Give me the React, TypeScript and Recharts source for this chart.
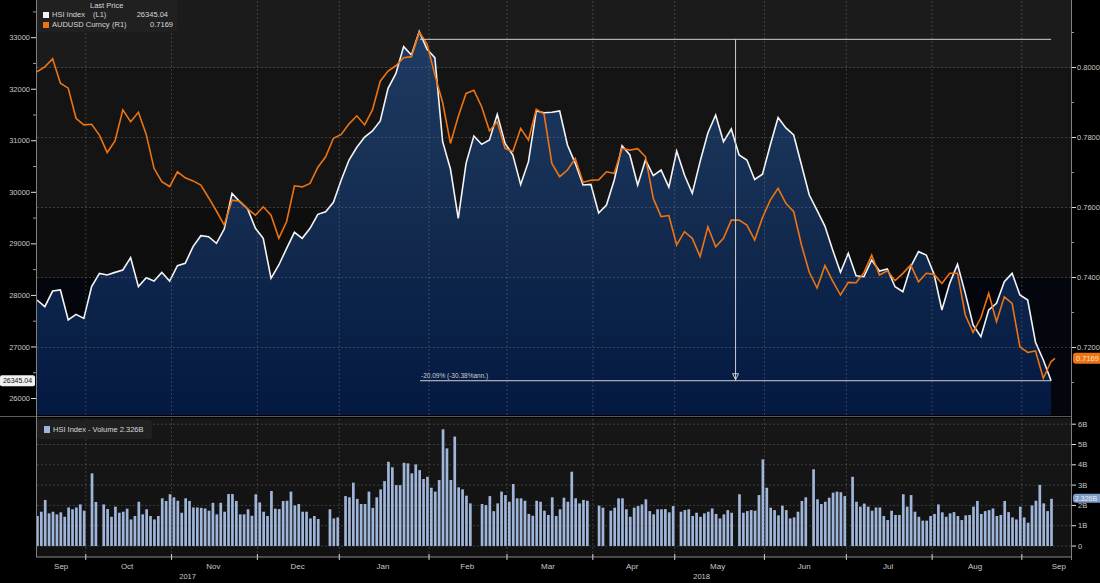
import React from 'react';
import {
  ComposedChart,
  Area,
  Line,
  Bar,
  XAxis,
  YAxis,
  ReferenceLine,
  ReferenceDot,
} from 'recharts';

// HSI close, every 2nd trading day from 13 Sep 2017 (day 0) to 12 Sep 2018 (day 260)
const hsi = [
  27911, 27781, 28085, 28105, 27523, 27633, 27555, 28170, 28428, 28396,
  28447, 28493, 28732, 28170, 28344, 28279, 28447, 28279, 28577, 28622,
  28946, 29159, 29140, 29010, 29288, 29980, 29818, 29676, 29301, 29107,
  28331, 28590, 28913, 29224, 29107, 29301, 29573, 29624, 29806, 30239,
  30627, 30873, 31073, 31190, 31384, 32017, 32302, 32826, 32664, 33120,
  32774, 32612, 30982, 30452, 29495, 30562, 31092, 30931, 31015, 31513,
  30950, 30724, 30150, 30595, 31578, 31545, 31552, 31578, 30918, 30562,
  30142, 30155, 29600, 29754, 30239, 30905, 30724, 30142, 30627, 30323,
  30433, 30100, 30801, 30336, 29980, 30595, 31150, 31500, 30982, 31228,
  30724, 30627, 30250, 30350, 30918, 31450, 31250, 31112, 30530, 29948,
  29650, 29346, 28881, 28450, 28816, 28383, 28363, 28687, 28473, 28512,
  28169, 28072, 28557, 28849, 28784, 28409, 27717, 28234, 28603, 28040,
  27426, 27199, 27717, 27846, 28266, 28428, 28008, 27911, 27089, 26747,
  26345.04,
];

// AUDUSD on the same days, plus one more print (day 261)
const aud = [
  0.7988, 0.8002, 0.8025, 0.7955, 0.7941, 0.7855, 0.7836, 0.7838, 0.7807, 0.7757,
  0.779, 0.7879, 0.7845, 0.7872, 0.7809, 0.7712, 0.7674, 0.766, 0.7702, 0.7685,
  0.7676, 0.7664, 0.7628, 0.759, 0.755, 0.7621, 0.7618, 0.7596, 0.7578, 0.7602,
  0.7578, 0.7512, 0.756, 0.7662, 0.7659, 0.7669, 0.7715, 0.7745, 0.7798, 0.7809,
  0.7839, 0.7862, 0.7836, 0.7879, 0.7961, 0.799, 0.8005, 0.8028, 0.8031, 0.8101,
  0.8067, 0.7979, 0.79, 0.7783, 0.786, 0.7926, 0.7935, 0.7888, 0.7819, 0.7845,
  0.7769, 0.776, 0.7826, 0.7793, 0.7881, 0.7867, 0.7726, 0.7688, 0.7707, 0.774,
  0.7672, 0.7678, 0.7679, 0.7702, 0.7698, 0.7769, 0.7764, 0.7768, 0.7745, 0.7626,
  0.7574, 0.7577, 0.7493, 0.7531, 0.7512, 0.746, 0.7545, 0.7488, 0.7512, 0.7564,
  0.7564, 0.755, 0.7507, 0.7571, 0.7621, 0.7655, 0.7612, 0.7588, 0.7493, 0.7415,
  0.737, 0.7434, 0.739, 0.735, 0.7386, 0.7385, 0.7414, 0.7464, 0.7407, 0.7419,
  0.7391, 0.7412, 0.7436, 0.7388, 0.7412, 0.7409, 0.7383, 0.7412, 0.7412, 0.7293,
  0.7243, 0.7285, 0.7355, 0.7274, 0.7345, 0.7326, 0.7202, 0.7186, 0.719, 0.7112,
  0.716, 0.7169,
];
const audExtraDay = 261;

// HSI daily volume in billions, one per weekday (null = HK holiday)
const volume = [
  1.48, 1.69, 2.27, 1.61, 1.69, 1.56, 1.66, 1.44, 1.9, 1.81,
  1.9, 2.05, 1.74, null, 3.58, 2.17, null, 2.05, 1.82, 1.44,
  1.94, 1.64, 1.69, 1.84, 1.31, 1.48, 2.18, 1.56, 1.81, 1.48,
  1.31, 1.48, 2.35, 2.22, 2.55, 2.4, 2.23, 1.64, 2.35, 2.22,
  1.9, 1.9, 1.88, 1.85, 1.74, 2.13, 1.56, 2.13, 1.69, 2.56,
  2.56, 2.22, 1.56, 1.56, 1.81, 1.49, 2.55, 2.15, 1.69, 1.48,
  2.71, 1.84, 1.82, 2.22, 2.23, 2.68, 2.0, 2.07, 1.69, 1.69,
  1.36, 1.48, 1.33, null, null, 1.81, 1.36, 1.41, null, 2.46,
  2.4, 3.12, 2.32, 2.07, 2.07, 2.68, 1.88, 2.4, 2.79, 3.2,
  4.15, 3.88, 3.0, 3.0, 4.1, 4.07, 3.58, 4.02, 3.74, 3.3,
  3.41, 2.87, 2.68, 3.25, 5.75, 4.81, 3.25, 5.39, 2.89, 2.79,
  2.48, 2.1, null, null, 2.07, 2.02, 2.46, 1.72, 2.1, 2.68,
  2.51, 2.18, 3.05, 2.35, 2.35, 2.23, 1.58, 1.49, 2.23, 2.18,
  1.74, 1.53, 2.4, 1.48, 1.81, 2.38, 2.18, 3.66, 2.35, 2.1,
  2.27, 2.23, null, null, 1.99, 1.89, null, 1.74, 1.89, 2.35,
  2.35, 1.81, 1.44, 1.89, 1.97, 2.05, 2.3, 1.72, 1.56, 1.81,
  1.81, 1.82, 1.66, 1.97, null, 1.69, 1.77, 1.81, 1.48, 1.64,
  1.44, 1.61, 1.69, 1.85, 1.58, 1.36, 1.56, 1.77, 1.64, null,
  2.55, 1.64, 1.72, 1.77, 1.74, 2.51, 4.27, 2.87, 1.89, 1.77,
  1.51, 1.99, 1.77, 1.36, 1.41, 1.69, 2.22, 2.4, null, 3.78,
  2.3, 2.07, 2.18, 2.38, 2.63, 2.68, 2.65, 2.46, null, 3.41,
  2.18, 1.94, 2.09, 1.94, 1.74, 1.9, 1.9, 1.48, 1.28, 1.74,
  1.53, 1.53, 2.55, 1.94, 2.51, 1.69, 1.44, 1.25, 1.25, 1.48,
  1.58, 2.05, 1.66, 1.44, 1.61, 1.67, 1.48, 1.28, 1.51, 1.53,
  1.94, 2.22, 1.58, 1.72, 1.77, 1.85, 1.48, 1.53, 2.22, 1.67,
  1.41, 1.31, 1.94, 1.41, 1.15, 2.0, 2.23, 3.01, 2.1, 1.72,
  2.326,
];

const monthNames = ['Sep', 'Oct', 'Nov', 'Dec', 'Jan', 'Feb', 'Mar', 'Apr', 'May', 'Jun', 'Jul', 'Aug', 'Sep'];
const monthLabelDays = [6.2, 23.1, 45.2, 66.8, 88.7, 110.3, 131, 152.6, 174.5, 196.7, 218.2, 240.5, 262];
const monthStartDays = [13, 35, 57, 78, 101, 121, 143, 164, 187, 208, 230, 253];
const yearNames = ['2017', '2018'];
const yearLabelDays = [38.6, 170.4];

const hsiTicks = [26000, 26500, 27000, 27500, 28000, 28500, 29000, 29500, 30000, 30500, 31000, 31500, 32000, 32500, 33000, 33500];
const audTicks = [0.71, 0.72, 0.73, 0.74, 0.75, 0.76, 0.77, 0.78, 0.79, 0.8, 0.81, 0.82];
const audGrid = [0.72, 0.74, 0.76, 0.78, 0.8];
const volTicks = [0, 1, 2, 3, 4, 5, 6];
const volTickLabels = ['0', '1B', '2B', '3B', '4B', '5B', '6B'];

const hsiLast = 26345.04;
const audLast = 0.7169;
const volLast = 2.326;
const hsiPeakRef = 32968;
const moveText = '-20.09% (-30.38%ann.)';
const moveStartDay = 98.2;
const moveEndDay = 260;
const arrowDay = 179.1;

const DAY_DOMAIN: [number, number] = [-0.26, 265.1];
const HSI_DOMAIN: [number, number] = [25680, 33731];
const AUD_DOMAIN: [number, number] = [0.70072, 0.81929];
const VOL_DOMAIN: [number, number] = [-0.54, 6.305];

const TOP_H = 415;
const PLOT_L = 36;
const PLOT_R = 1071;
const FONT = '"Liberation Sans", Arial, sans-serif';
const GRID = 'rgba(150,150,150,0.32)';
const ORANGE = '#ec7412';

const lineRows = aud.map((a, k) => ({
  day: k < hsi.length ? k * 2 : audExtraDay,
  hsi: k < hsi.length ? hsi[k] : null,
  aud: a,
}));
const volRows = volume.map((v, i) => ({ day: i, vol: v }));
const boundaries = monthStartDays.map((d) => d - 0.5);

// y pixel of an AUD value, used only for the background bands
const audY = (v: number) => ((AUD_DOMAIN[1] - v) / (AUD_DOMAIN[1] - AUD_DOMAIN[0])) * TOP_H;

const LeftTick = (props: any) => {
  const { x, y, payload } = props;
  const major = payload.value % 1000 === 0;
  return (
    <g>
      <line x1={x - (major ? 5 : 3)} x2={x} y1={y} y2={y} stroke={major ? '#e0e0e0' : '#9a9a9a'} />
      {major && (
        <text x={x - 6} y={y} dy={2.6} textAnchor="end" fill="#c9c9c9" fontSize={7.5} fontFamily={FONT}>
          {payload.value}
        </text>
      )}
    </g>
  );
};

const RightTick = (props: any) => {
  const { x, y, payload } = props;
  const major = Math.round(payload.value * 100) % 2 === 0;
  return (
    <g>
      <line x1={x} x2={x + (major ? 5 : 3)} y1={y} y2={y} stroke={major ? '#e0e0e0' : '#9a9a9a'} />
      {major && (
        <text x={x + 6} y={y} dy={2.6} fill="#c9c9c9" fontSize={7.5} fontFamily={FONT}>
          {payload.value.toFixed(4)}
        </text>
      )}
    </g>
  );
};

const VolTick = (props: any) => {
  const { x, y, index } = props;
  return (
    <g>
      <line x1={x} x2={x + 5} y1={y} y2={y} stroke="#e0e0e0" />
      <text x={x + 7} y={y} dy={2.6} fill="#c9c9c9" fontSize={7.5} fontFamily={FONT}>
        {volTickLabels[index]}
      </text>
    </g>
  );
};

const BoundaryTick = (props: any) => {
  const { x, y } = props;
  return <line x1={x} x2={x} y1={y - 3} y2={y + 3} stroke="#cfcfcf" />;
};

const MonthTick = (props: any) => {
  const { x, y, index } = props;
  return (
    <text x={x} y={y} dy={9} textAnchor="middle" fill="#c9c9c9" fontSize={8} fontFamily={FONT}>
      {monthNames[index]}
    </text>
  );
};

const YearTick = (props: any) => {
  const { x, y, index } = props;
  return (
    <text x={x} y={y} dy={8} textAnchor="middle" fill="#c9c9c9" fontSize={7.5} fontFamily={FONT}>
      {yearNames[index]}
    </text>
  );
};

const LeftTag = (props: any) => {
  const { cx, cy } = props;
  return (
    <g>
      <rect x={cx - 36} y={cy - 5.5} width={35} height={11} rx={2} fill="#f0f0f0" />
      <text x={cx - 18.5} y={cy} dy={2.6} textAnchor="middle" fill="#111" fontSize={7} fontFamily={FONT}>
        {hsiLast.toFixed(2)}
      </text>
    </g>
  );
};

const RightTag = (props: any) => {
  const { cx, cy } = props;
  return (
    <g>
      <rect x={cx + 2} y={cy - 5.5} width={30} height={11} rx={3} fill={ORANGE} />
      <text x={cx + 5} y={cy} dy={2.6} fill="#ffe2c4" fontSize={7.5} fontFamily={FONT}>
        {audLast.toFixed(4)}
      </text>
    </g>
  );
};

const VolTag = (props: any) => {
  const { cx, cy } = props;
  return (
    <g>
      <rect x={cx + 2} y={cy - 5} width={30} height={9} rx={3} fill="#7f9cc6" />
      <text x={cx + 4} y={cy - 0.5} dy={2.4} fill="#e6edf8" fontSize={7} fontFamily={FONT}>
        {volLast.toFixed(3)}B
      </text>
    </g>
  );
};

const ArrowHead = (props: any) => {
  const { cx, cy } = props;
  return <path d={`M${cx - 3},${cy - 7} L${cx + 3},${cy - 7} L${cx},${cy - 1} Z`} fill="none" stroke="#d0d0d0" />;
};

const MoveLabel = (props: any) => {
  const { cx, cy } = props;
  return (
    <text x={cx + 1} y={cy - 2.5} fill="#cfcfcf" fontSize={6.5} fontFamily={FONT}>
      {moveText}
    </text>
  );
};

const textStyle: React.CSSProperties = {
  position: 'absolute',
  fontSize: 7.5,
  color: '#d8d8d8',
  whiteSpace: 'nowrap',
  lineHeight: '9px',
};

export default function App() {
  const b1 = audY(0.8);
  const b2 = audY(0.76);
  const b3 = audY(0.74);
  const topBands = `linear-gradient(to bottom, #1b1b1b 0px, #1b1b1b ${b1}px, #141414 ${b1}px, #141414 ${b2}px, #0e0e0e ${b2}px, #0e0e0e ${b3}px, #04060d ${b3}px, #04060d ${TOP_H}px)`;

  return (
    <div
      style={{
        position: 'absolute',
        left: 0,
        top: 0,
        width: 1100,
        height: 583,
        background: '#000',
        overflow: 'hidden',
        fontFamily: FONT,
      }}
    >
      {/* panel backgrounds */}
      <div style={{ position: 'absolute', left: PLOT_L, top: 0, width: PLOT_R - PLOT_L, height: TOP_H, background: topBands }} />
      <div
        style={{
          position: 'absolute',
          left: PLOT_L,
          top: 418,
          width: PLOT_R - PLOT_L,
          height: 139,
          background: 'linear-gradient(to bottom, #171717, #111111)',
        }}
      />

      {/* price panel */}
      <div style={{ position: 'absolute', left: 0, top: 0 }}>
        <ComposedChart width={1100} height={TOP_H} data={lineRows} margin={{ top: 0, right: 0, bottom: 0, left: 0 }}>
          <defs>
            <linearGradient id="hsiFill" x1="0" y1="0" x2="0" y2="1">
              <stop offset="0%" stopColor="#1f4170" />
              <stop offset="55%" stopColor="#132e58" />
              <stop offset="100%" stopColor="#031c4a" />
            </linearGradient>
          </defs>
          <XAxis type="number" dataKey="day" domain={DAY_DOMAIN} allowDataOverflow hide />
          <YAxis
            yAxisId="left"
            orientation="left"
            width={PLOT_L}
            domain={HSI_DOMAIN}
            allowDataOverflow
            ticks={hsiTicks}
            interval={0}
            tick={LeftTick}
            tickSize={0}
            tickMargin={0}
            tickLine={false}
            axisLine={false}
          />
          <YAxis
            yAxisId="right"
            orientation="right"
            width={1100 - PLOT_R}
            domain={AUD_DOMAIN}
            allowDataOverflow
            ticks={audTicks}
            interval={0}
            tick={RightTick}
            tickSize={0}
            tickMargin={0}
            tickLine={false}
            axisLine={false}
          />
          {audGrid.map((v) => (
            <ReferenceLine key={`ag${v}`} yAxisId="right" y={v} stroke={GRID} strokeDasharray="2 2" />
          ))}
          {boundaries.map((d) => (
            <ReferenceLine key={`mb${d}`} yAxisId="left" x={d} stroke={GRID} strokeDasharray="2 2" />
          ))}
          <Area
            yAxisId="left"
            type="linear"
            dataKey="hsi"
            stroke="#f4f4f4"
            strokeWidth={1.6}
            fill="url(#hsiFill)"
            fillOpacity={0.86}
            dot={false}
            activeDot={false}
            isAnimationActive={false}
          />
          <Line
            yAxisId="right"
            type="linear"
            dataKey="aud"
            stroke={ORANGE}
            strokeWidth={1.6}
            dot={false}
            activeDot={false}
            isAnimationActive={false}
          />
          <ReferenceLine
            yAxisId="left"
            segment={[
              { x: moveStartDay, y: hsiPeakRef },
              { x: moveEndDay, y: hsiPeakRef },
            ]}
            stroke="#cfcfcf"
          />
          <ReferenceLine
            yAxisId="left"
            segment={[
              { x: moveStartDay, y: hsiLast },
              { x: moveEndDay, y: hsiLast },
            ]}
            stroke="#cfcfcf"
          />
          <ReferenceLine
            yAxisId="left"
            segment={[
              { x: arrowDay, y: hsiPeakRef },
              { x: arrowDay, y: hsiLast },
            ]}
            stroke="#cfcfcf"
          />
          <ReferenceDot yAxisId="left" x={arrowDay} y={hsiLast} ifOverflow="visible" shape={ArrowHead} />
          <ReferenceDot yAxisId="left" x={moveStartDay} y={hsiLast} ifOverflow="visible" shape={MoveLabel} />
          <ReferenceDot yAxisId="left" x={DAY_DOMAIN[0]} y={hsiLast} ifOverflow="visible" shape={LeftTag} />
          <ReferenceDot yAxisId="right" x={DAY_DOMAIN[1]} y={audLast} ifOverflow="visible" shape={RightTag} />
        </ComposedChart>
      </div>

      {/* volume panel */}
      <div style={{ position: 'absolute', left: 0, top: 418 }}>
        <ComposedChart width={1100} height={164} data={volRows} margin={{ top: 0, right: 0, bottom: 0, left: PLOT_L }}>
          <XAxis
            xAxisId="b"
            type="number"
            dataKey="day"
            domain={DAY_DOMAIN}
            allowDataOverflow
            ticks={boundaries}
            interval={0}
            tick={BoundaryTick}
            tickSize={0}
            tickMargin={0}
            tickLine={false}
            axisLine={{ stroke: '#8a8a8a' }}
            height={3}
          />
          <XAxis
            xAxisId="m"
            type="number"
            dataKey="day"
            domain={DAY_DOMAIN}
            allowDataOverflow
            ticks={monthLabelDays}
            interval={0}
            tick={MonthTick}
            tickSize={0}
            tickMargin={0}
            tickLine={false}
            axisLine={false}
            height={11}
          />
          <XAxis
            xAxisId="yr"
            type="number"
            dataKey="day"
            domain={DAY_DOMAIN}
            allowDataOverflow
            ticks={yearLabelDays}
            interval={0}
            tick={YearTick}
            tickSize={0}
            tickMargin={0}
            tickLine={false}
            axisLine={false}
            height={11}
          />
          <YAxis
            yAxisId="v"
            orientation="right"
            width={1100 - PLOT_R}
            domain={VOL_DOMAIN}
            allowDataOverflow
            ticks={volTicks}
            interval={0}
            tick={VolTick}
            tickSize={0}
            tickMargin={0}
            tickLine={false}
            axisLine={false}
          />
          {volTicks.map((v) => (
            <ReferenceLine key={`vg${v}`} xAxisId="b" yAxisId="v" y={v} stroke={GRID} strokeDasharray="2 2" />
          ))}
          {boundaries.map((d) => (
            <ReferenceLine key={`vb${d}`} xAxisId="b" yAxisId="v" x={d} stroke={GRID} strokeDasharray="2 2" />
          ))}
          <Bar xAxisId="b" yAxisId="v" dataKey="vol" fill="#9fb5da" barSize={2.7} isAnimationActive={false} />
          <ReferenceDot xAxisId="b" yAxisId="v" x={DAY_DOMAIN[1]} y={volLast} ifOverflow="visible" shape={VolTag} />
        </ComposedChart>
      </div>

      {/* axis lines and panel separator */}
      <div style={{ position: 'absolute', left: 0, top: 416, width: PLOT_R + 1, height: 1, background: '#5a5a5a' }} />
      <div style={{ position: 'absolute', left: PLOT_L, top: 0, width: 1, height: 557, background: '#808080' }} />
      <div style={{ position: 'absolute', left: PLOT_R, top: 0, width: 1, height: 560, background: '#808080' }} />

      {/* price legend */}
      <div style={{ position: 'absolute', left: 37, top: 0, width: 140, height: 32, background: '#202020', borderRadius: '0 0 3px 3px' }}>
        <span style={{ ...textStyle, left: 53, top: 1 }}>Last Price</span>
        <span style={{ position: 'absolute', left: 6, top: 12, width: 6, height: 6, background: '#f4f4f4' }} />
        <span style={{ ...textStyle, left: 15, top: 10 }}>HSI Index</span>
        <span style={{ ...textStyle, left: 56, top: 10 }}>(L1)</span>
        <span style={{ ...textStyle, right: 9, top: 10 }}>{hsiLast.toFixed(2)}</span>
        <span style={{ position: 'absolute', left: 6, top: 22, width: 6, height: 6, background: ORANGE }} />
        <span style={{ ...textStyle, left: 15, top: 20 }}>AUDUSD Curncy</span>
        <span style={{ ...textStyle, left: 75, top: 20 }}>(R1)</span>
        <span style={{ ...textStyle, right: 4, top: 20 }}>{audLast.toFixed(4)}</span>
      </div>

      {/* volume legend */}
      <div style={{ position: 'absolute', left: 37, top: 420, width: 115, height: 19, background: '#202020', borderRadius: 3 }}>
        <span style={{ position: 'absolute', left: 7, top: 6, width: 6, height: 7, background: '#9fb5da' }} />
        <span style={{ ...textStyle, left: 16, top: 5 }}>HSI Index - Volume {volLast.toFixed(3)}B</span>
      </div>
    </div>
  );
}
